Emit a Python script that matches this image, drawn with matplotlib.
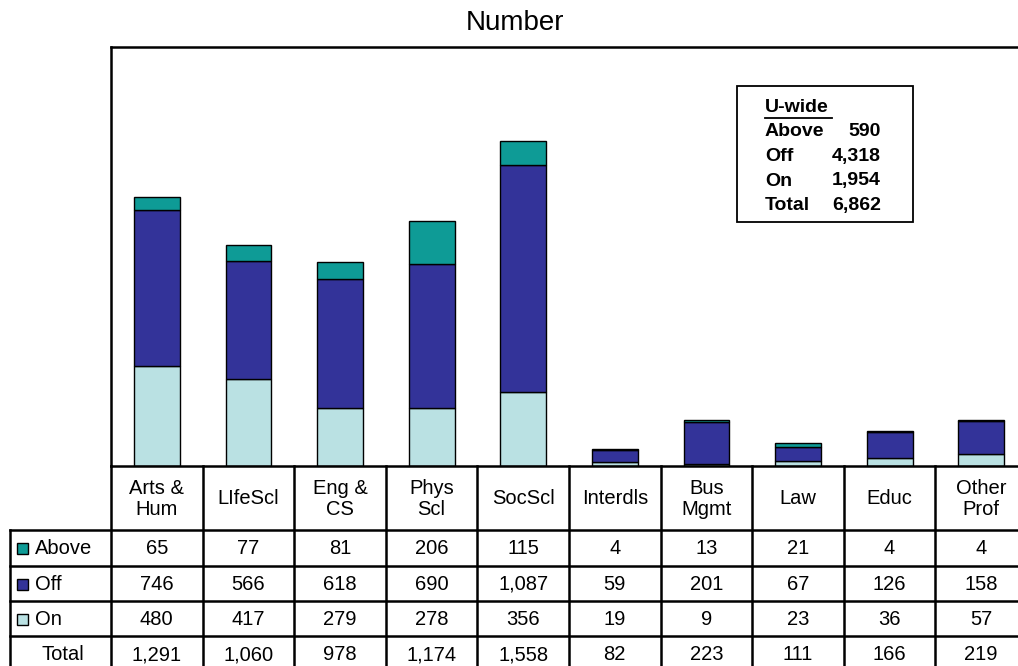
import matplotlib
matplotlib.use("Agg")
import matplotlib.pyplot as plt
import numpy as np
from matplotlib.patches import Rectangle

plt.rcParams['font.family'] = ['Liberation Sans', 'DejaVu Sans']

# Datos
categorias = ["Arts &\nHum", "LIfeScl", "Eng &\nCS", "Phys\nScl", "SocScl",
              "Interdls", "Bus\nMgmt", "Law", "Educ", "Other\nProf"]
above = [65, 77, 81, 206, 115, 4, 13, 21, 4, 4]
off = [746, 566, 618, 690, 1087, 59, 201, 67, 126, 158]
on = [480, 417, 279, 278, 356, 19, 9, 23, 36, 57]
total = [1291, 1060, 978, 1174, 1558, 82, 223, 111, 166, 219]
series_nombres = ["Above", "Off", "On"]

uwide_etiquetas = ["Above", "Off", "On", "Total"]
uwide_valores = ["590", "4,318", "1,954", "6,862"]

# Colores
C_ABOVE = "#0e9b96"
C_OFF = "#333399"
C_ON = "#bae1e3"
colores = [C_ABOVE, C_OFF, C_ON]

W, H = 1018, 666
LW = 1.8
FS = 14.5

# Geometría (pixeles)
X0 = 111          # borde izquierdo del área de barras
COL_W = 91.6      # ancho de columna
Y_TOP = 47
Y_BASE = 466
filas_y = [466, 530, 566, 601, 636, 672]   # bordes de filas de la tabla
X_LAB = 10

fig = plt.figure(figsize=(W / 100, H / 100), dpi=100)

# Eje de barras
n = len(categorias)
ax = fig.add_axes([X0 / W, 1 - Y_BASE / H, n * COL_W / W, (Y_BASE - Y_TOP) / H])
x = np.arange(n)
on_a = np.array(on)
off_a = np.array(off)
above_a = np.array(above)
kw = dict(width=0.5, edgecolor="black", linewidth=1.0)
ax.bar(x, on_a, color=C_ON, **kw)
ax.bar(x, off_a, bottom=on_a, color=C_OFF, **kw)
ax.bar(x, above_a, bottom=on_a + off_a, color=C_ABOVE, **kw)
ax.set_xlim(-0.5, n - 0.5)
ax.set_ylim(0, 2010)
ax.set_xticks([])
ax.set_yticks([])
for s in ax.spines.values():
    s.set_linewidth(LW)
ax.spines['right'].set_visible(False)

fig.text(515 / W, 1 - 23 / H, "Number", ha="center", va="center", fontsize=20)

# Tabla y cuadro (en pixeles), capa superior transparente
axt = fig.add_axes([0, 0, 1, 1], zorder=5)
axt.set_xlim(0, W)
axt.set_ylim(H, 0)
axt.axis("off")

bordes_x = X0 + COL_W * np.arange(n + 1)
# lineas verticales
for bx in bordes_x:
    axt.plot([bx, bx], [filas_y[0], filas_y[-1]], color="black", lw=LW)
axt.plot([X_LAB, X_LAB], [filas_y[1], filas_y[-1]], color="black", lw=LW)
# lineas horizontales
for fy in filas_y[1:-1]:
    axt.plot([X_LAB, bordes_x[-1]], [fy, fy], color="black", lw=LW)

centros_x = (bordes_x[:-1] + bordes_x[1:]) / 2
centros_y = [(filas_y[i] + filas_y[i + 1]) / 2 for i in range(len(filas_y) - 1)]

for cx, cat in zip(centros_x, categorias):
    axt.text(cx, centros_y[0] + 1, cat, ha="center", va="center",
             fontsize=FS, linespacing=1.1)

filas = [above, off, on, total]
for fila, cy in zip(filas, centros_y[1:]):
    for cx, v in zip(centros_x, fila):
        axt.text(cx, cy + 1, f"{v:,}", ha="center", va="center", fontsize=FS)

# etiquetas de fila con cuadros de color
for nombre, col, cy in zip(series_nombres, colores, centros_y[1:4]):
    axt.add_patch(Rectangle((17, cy - 5), 11, 11, facecolor=col,
                            edgecolor="black", linewidth=1.0))
    axt.text(35, cy + 1, nombre, ha="left", va="center", fontsize=FS)
axt.text((X_LAB + X0) / 2 + 2, centros_y[4] + 1, "Total", ha="center",
         va="center", fontsize=FS)

# Cuadro U-wide
axt.add_patch(Rectangle((737, 86), 176, 136, facecolor="white",
                        edgecolor="black", linewidth=1.3))
axt.text(765, 108, "U-wide", ha="left", va="center", fontsize=14,
         fontweight="bold")
axt.plot([765, 832], [118, 118], color="black", lw=1.3)
for i, (et, val) in enumerate(zip(uwide_etiquetas, uwide_valores)):
    yy = 132 + 24.5 * i
    axt.text(765, yy, et, ha="left", va="center", fontsize=14,
             fontweight="bold")
    axt.text(881, yy, val, ha="right", va="center", fontsize=14,
             fontweight="bold")

fig.savefig("out.png", dpi=100)
